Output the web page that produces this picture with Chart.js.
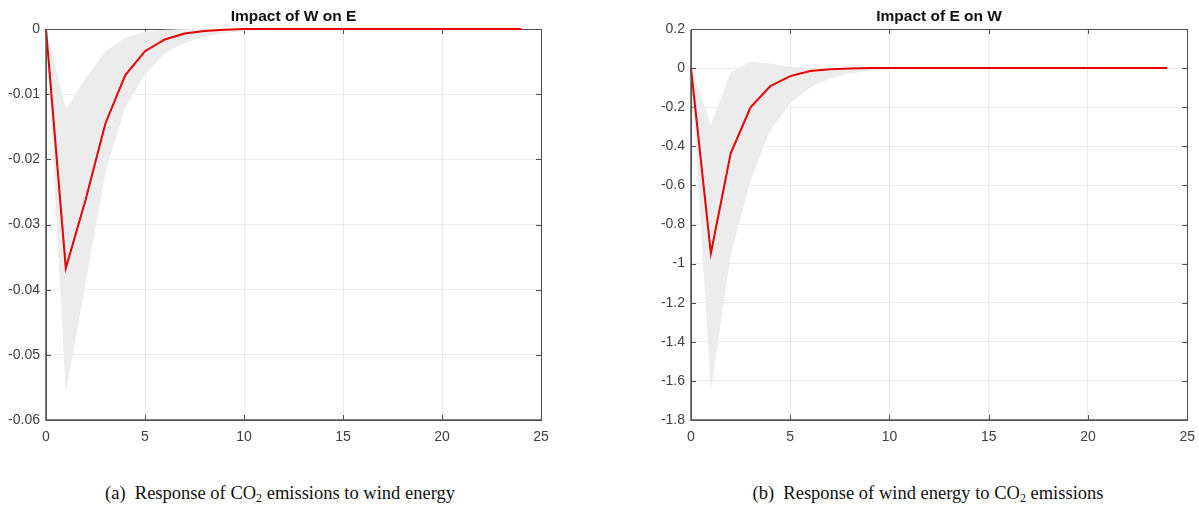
<!DOCTYPE html>
<html>
<head>
<meta charset="utf-8">
<script src="https://cdn.jsdelivr.net/npm/chart.js@4"></script>
<style>
  body { margin: 0; background: #fff; width: 1199px; height: 509px; position: relative; overflow: hidden; }
  canvas { position: absolute; top: 0; }
  #c1 { left: 0; }
  #c2 { left: 645px; }
  .caption { position: absolute; top: 483px; font-family: "Liberation Serif", serif; font-size: 18.5px; color: #111; white-space: nowrap; transform: translateX(-50%); }
  .caption sub { font-size: 12px; vertical-align: -3px; line-height: 0; }
</style>
</head>
<body>
<canvas id="c1" width="560" height="445"></canvas>
<canvas id="c2" width="559" height="445"></canvas>
<div class="caption" style="left:280px">(a)&nbsp; Response of CO<sub>2</sub> emissions to wind energy</div>
<div class="caption" style="left:928px">(b)&nbsp; Response of wind energy to CO<sub>2</sub> emissions</div>
<script>
// horizons
var horizon = [0, 1, 2, 3, 4, 5, 6, 7, 8, 9, 10, 11, 12, 13, 14, 15, 16, 17, 18, 19, 20, 21, 22, 23, 24];

// (a) impact of W on E
var irfWE   = [0, -0.0367, -0.0262, -0.0145, -0.0071, -0.0034, -0.0016, -0.0007, -0.0003, -0.0001, 0, 0, 0, 0, 0, 0, 0, 0, 0, 0, 0, 0, 0, 0, 0];
var upperWE = [0, -0.0124, -0.0075, -0.0035, -0.0013, -0.0004, -0.0001, 0, 0, 0, 0, 0, 0, 0, 0, 0, 0, 0, 0, 0, 0, 0, 0, 0, 0];
var lowerWE = [0, -0.0557, -0.0390, -0.0220, -0.0120, -0.0070, -0.0037, -0.0021, -0.0012, -0.0006, -0.0003, -0.0001, 0, 0, 0, 0, 0, 0, 0, 0, 0, 0, 0, 0, 0];
var yTicksWE = [0, -0.01, -0.02, -0.03, -0.04, -0.05, -0.06];

// (b) impact of E on W
var irfEW   = [0, -0.948, -0.436, -0.201, -0.092, -0.041, -0.015, -0.006, -0.002, 0, 0, 0, 0, 0, 0, 0, 0, 0, 0, 0, 0, 0, 0, 0, 0];
var upperEW = [0, -0.290, -0.024, 0.032, 0.024, 0.007, 0.002, 0, 0, 0, 0, 0, 0, 0, 0, 0, 0, 0, 0, 0, 0, 0, 0, 0, 0];
var lowerEW = [0, -1.647, -0.957, -0.573, -0.317, -0.181, -0.099, -0.053, -0.027, -0.013, -0.006, -0.002, 0, 0, 0, 0, 0, 0, 0, 0, 0, 0, 0, 0, 0];
var yTicksEW = [0.2, 0, -0.2, -0.4, -0.6, -0.8, -1, -1.2, -1.4, -1.6, -1.8];

var xTicks = [0, 5, 10, 15, 20, 25];

function pts(ys) {
    return horizon.map(function(h, i) { return { x: h, y: ys[i] }; });
}

// MATLAB style box with inner ticks, drawn under the curves
var boxPlugin = {
    id: 'matlabBox',
    beforeDatasetsDraw: function(chart) {
        var ctx = chart.ctx, a = chart.chartArea;
        var xs = chart.scales.x, ys = chart.scales.y;
        ctx.save();
        ctx.strokeStyle = '#4d4d4d';
        ctx.lineWidth = 1;
        ctx.strokeRect(Math.round(a.left) + 0.5, Math.round(a.top) + 0.5, Math.round(a.right - a.left), Math.round(a.bottom - a.top));
        ctx.beginPath();
        xs.ticks.forEach(function(t) {
            var px = Math.round(xs.getPixelForValue(t.value)) + 0.5;
            ctx.moveTo(px, a.bottom); ctx.lineTo(px, a.bottom - 5);
            ctx.moveTo(px, a.top); ctx.lineTo(px, a.top + 5);
        });
        ys.ticks.forEach(function(t) {
            var py = Math.round(ys.getPixelForValue(t.value)) + 0.5;
            ctx.moveTo(a.left, py); ctx.lineTo(a.left + 5, py);
            ctx.moveTo(a.right, py); ctx.lineTo(a.right - 5, py);
        });
        ctx.stroke();
        ctx.restore();
    },
    afterDraw: function(chart) {
        var ctx = chart.ctx, a = chart.chartArea;
        ctx.save();
        // thicker left and bottom axis
        ctx.strokeStyle = '#555';
        ctx.lineWidth = 1.5;
        ctx.beginPath();
        ctx.moveTo(a.left, a.top + 1); ctx.lineTo(a.left, a.bottom); ctx.lineTo(a.right, a.bottom);
        ctx.stroke();
        ctx.fillStyle = '#111';
        ctx.font = 'bold 15.5px "Liberation Sans", Arial, sans-serif';
        ctx.textAlign = 'center';
        ctx.textBaseline = 'alphabetic';
        ctx.fillText(chart.options.plugins.boxTitle, (a.left + a.right) / 2, a.top - 8);
        ctx.restore();
    }
};

function makeChart(id, title, irf, upper, lower, yTicks, padRight) {
    var ctx = document.getElementById(id).getContext('2d');
    return new Chart(ctx, {
        type: 'line',
        data: {
            datasets: [{
                data: pts(irf),
                borderColor: '#e60000',
                borderWidth: 2,
                pointRadius: 0,
                clip: 4,
                fill: false
            }, {
                data: pts(upper),
                borderWidth: 0,
                borderColor: 'rgba(0,0,0,0)',
                backgroundColor: '#ececec',
                pointRadius: 0,
                fill: '+1'
            }, {
                data: pts(lower),
                borderWidth: 0,
                borderColor: 'rgba(0,0,0,0)',
                pointRadius: 0,
                fill: false
            }]
        },
        options: {
            responsive: false,
            animation: false,
            layout: { padding: { top: 29, right: padRight, left: 0, bottom: 0 } },
            plugins: {
                legend: { display: false },
                tooltip: { enabled: false },
                boxTitle: title
            },
            scales: {
                x: {
                    type: 'linear',
                    min: 0,
                    max: 25,
                    afterBuildTicks: function(s) { s.ticks = xTicks.map(function(v) { return { value: v }; }); },
                    afterFit: function(s) { s.height = 25; },
                    grid: { color: 'rgba(0,0,0,0.08)', drawTicks: false },
                    border: { display: false },
                    ticks: {
                        padding: 9,
                        color: '#404040',
                        font: { family: '"Liberation Sans", Arial, sans-serif', size: 14 },
                        maxRotation: 0,
                        callback: function(v) { return String(v); }
                    }
                },
                y: {
                    min: yTicks[yTicks.length - 1],
                    max: yTicks[0],
                    afterBuildTicks: function(s) { s.ticks = yTicks.map(function(v) { return { value: v }; }); },
                    afterFit: function(s) { s.width = 46; },
                    grid: { color: 'rgba(0,0,0,0.08)', drawTicks: false },
                    border: { display: false },
                    ticks: {
                        padding: 6,
                        color: '#404040',
                        font: { family: '"Liberation Sans", Arial, sans-serif', size: 14 },
                        callback: function(v) { return String(v); }
                    }
                }
            }
        },
        plugins: [boxPlugin]
    });
}

makeChart('c1', 'Impact of W on E', irfWE, upperWE, lowerWE, yTicksWE, 19);
makeChart('c2', 'Impact of E on W', irfEW, upperEW, lowerEW, yTicksEW, 12);
</script>
</body>
</html>
